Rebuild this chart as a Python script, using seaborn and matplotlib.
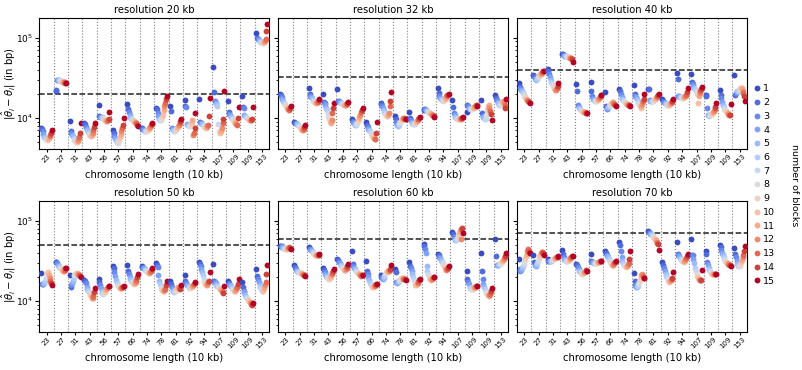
import numpy as np
import pandas as pd
import matplotlib
matplotlib.use('Agg')
import matplotlib.pyplot as plt
import seaborn as sns

lengths = ['23', '27', '31', '43', '56', '57', '66', '74', '78', '81', '92', '94', '107', '109', '109', '153']
blocks = list(range(1, 16))
resolutions = [20, 32, 40, 50, 60, 70]

# |theta_hat - theta| in kb : one row per chromosome, one value per number of blocks (1..15)
err_20kb = [
    [7.6, 7.2, 6.8, 6.3, 5.8, 5.6, 5.5, 5.4, 5.4, 5.5, 5.6, 5.9, 6.2, 6.6, 7.0],
    [21.5, 22.5, 29.5, 30, 30, 29.5, 29.5, 29, 29, 28.5, 28, 28, 28, 27.5, 27.5],
    [9.1, 6.9, 6.6, 6.2, 5.9, 5.6, 5.4, 5.2, 5.1, 5.1, 5.2, 5.4, 5.8, 6.6, 8.6],
    [8.8, 8.4, 7.8, 7.4, 7.0, 6.7, 6.4, 6.1, 5.9, 5.9, 6.1, 6.5, 7.0, 7.8, 8.6],
    [14.6, 10.5, 10.4, 10.3, 10.2, 10.0, 10.0, 9.8, 9.7, 9.5, 9.3, 9.2, 9.4, 9.8, 12.0],
    [7.1, 6.5, 6.0, 5.6, 5.3, 5.0, 4.9, 5.1, 5.4, 5.8, 6.3, 6.9, 7.5, 8.2, 10.0],
    [15.0, 13.0, 12.0, 10.8, 10.2, 9.8, 9.6, 9.4, 9.3, 9.2, 9.0, 8.8, 8.6, 8.2, 7.9],
    [7.6, 7.4, 7.2, 7.0, 6.9, 6.8, 6.8, 6.9, 7.0, 7.2, 7.5, 7.8, 8.1, 8.4, 8.8],
    [13.3, 12.8, 11.5, 10.5, 9.8, 9.5, 9.4, 9.6, 10.2, 11.0, 12.5, 14.0, 15.5, 17.5, 19.0],
    [14.0, 12.3, 7.6, 7.3, 7.1, 6.9, 6.9, 7.0, 7.2, 7.5, 7.9, 8.3, 8.8, 9.2, 9.7],
    [16.8, 14.3, 13.8, 8.5, 8.3, 8.1, 8.0, 8.0, 8.3, 8.7, 9.4, 6.2, 6.5, 7.5, 11.5],
    [17.4, 9.0, 8.8, 8.6, 8.4, 8.2, 8.0, 7.8, 7.7, 7.6, 7.7, 7.9, 8.2, 10.5, 17.8],
    [43.0, 21.0, 16.5, 15.5, 14.8, 14.2, 8.5, 6.8, 6.6, 6.6, 6.8, 7.5, 8.6, 9.6, 21.5],
    [16.2, 11.8, 11.3, 10.8, 10.4, 10.1, 9.8, 9.5, 9.2, 8.9, 8.6, 8.4, 8.3, 10.0, 13.6],
    [19.0, 13.8, 13.2, 11.0, 10.5, 10.2, 10.0, 9.8, 9.6, 9.5, 9.4, 9.4, 9.5, 9.6, 13.6],
    [113, 100, 96, 93, 91, 89, 88, 87, 87, 88, 89, 92, 97, 120, 148],
]
err_32kb = [
    [20.0, 19.5, 18.5, 17.5, 16.5, 15.5, 15.0, 14.5, 14.0, 13.5, 13.0, 12.8, 12.5, 13.2, 14.2],
    [9.0, 8.8, 8.6, 8.5, 8.4, 8.2, 8.0, 7.8, 7.5, 7.3, 7.1, 7.0, 7.3, 7.8, 8.3],
    [24.0, 20.2, 19.0, 18.2, 17.6, 17.0, 16.5, 16.0, 15.8, 15.6, 15.5, 15.7, 16.0, 16.6, 17.4],
    [19.7, 16.0, 15.5, 14.5, 13.5, 12.5, 11.5, 10.5, 9.7, 9.0, 8.7, 9.5, 11.5, 13.5, 15.6],
    [23.3, 16.5, 16.3, 16.0, 15.6, 15.3, 15.0, 14.8, 14.6, 14.5, 14.5, 14.6, 14.8, 15.3, 16.0],
    [9.7, 9.3, 9.0, 8.6, 8.3, 8.3, 8.5, 8.8, 9.2, 9.7, 10.3, 11.0, 11.8, 12.5, 13.3],
    [8.9, 8.3, 7.8, 7.4, 7.1, 6.8, 6.5, 6.2, 6.0, 5.8, 5.6, 5.5, 5.5, 6.5, 8.9],
    [15.6, 14.8, 14.0, 13.2, 12.5, 11.8, 11.2, 10.8, 10.6, 10.5, 10.8, 11.5, 14.0, 16.3, 21.0],
    [10.7, 9.7, 9.0, 8.3, 8.0, 8.2, 8.6, 9.0, 9.3, 9.6, 9.8, 9.9, 9.9, 9.8, 9.7],
    [11.9, 10.0, 9.5, 9.0, 8.7, 8.5, 8.4, 8.5, 8.7, 8.9, 9.2, 9.5, 9.7, 9.9, 10.2],
    [12.7, 12.9, 12.8, 12.6, 12.4, 12.2, 12.0, 11.8, 11.6, 11.4, 11.2, 11.0, 10.8, 10.6, 10.3],
    [24.0, 20.3, 19.0, 18.0, 17.3, 16.8, 16.5, 16.6, 17.0, 17.5, 18.0, 18.6, 19.2, 19.6, 19.8],
    [16.9, 13.7, 11.5, 10.8, 10.3, 10.0, 9.8, 9.7, 9.6, 9.6, 9.7, 9.8, 9.9, 10.1, 10.3],
    [11.8, 14.5, 14.0, 13.5, 13.2, 13.0, 12.9, 13.0, 13.2, 13.5, 13.8, 14.2, 14.6, 14.6, 14.2],
    [16.9, 11.5, 10.7, 10.2, 9.9, 9.7, 9.6, 11.0, 12.5, 14.0, 14.5, 13.5, 12.3, 11.3, 9.4],
    [19.5, 18.0, 17.0, 16.0, 15.2, 14.6, 14.5, 14.8, 15.3, 16.0, 16.5, 16.0, 14.5, 13.2, 17.2],
]
err_40kb = [
    [27.0, 24.5, 23.5, 22.5, 21.5, 20.5, 19.8, 19.0, 18.2, 17.5, 17.0, 16.6, 16.3, 16.0, 15.6],
    [34.5, 33.0, 31.5, 30.5, 30.0, 31.0, 32.0, 33.0, 34.0, 35.0, 35.5, 36.0, 37.0, 38.0, 38.6],
    [40.5, 38.0, 35.5, 32.5, 30.0, 28.0, 26.5, 25.0, 24.0, 23.2, 22.5, 22.5, 23.5, 25.0, 27.0],
    [63, 62, 61, 60, 59.5, 59, 58.5, 58, 57.5, 57, 56.5, 56, 56.5, 55, 50],
    [26.6, 22.0, 14.6, 13.8, 13.2, 12.8, 12.5, 12.3, 12.1, 12.0, 11.9, 11.8, 11.7, 11.6, 11.5],
    [28.0, 22.0, 19.0, 17.5, 16.8, 16.4, 16.3, 16.4, 16.6, 16.9, 17.3, 17.8, 18.5, 19.2, 19.5],
    [21.0, 14.0, 12.8, 13.2, 13.6, 14.0, 14.5, 15.0, 15.5, 16.0, 16.0, 15.5, 15.0, 14.5, 14.2],
    [22.8, 22.0, 20.0, 18.5, 17.5, 16.8, 16.2, 15.8, 15.4, 15.0, 14.8, 14.6, 14.5, 14.4, 14.0],
    [25.6, 20.0, 19.0, 18.2, 17.3, 16.5, 15.6, 14.8, 14.0, 13.5, 14.0, 15.0, 16.3, 17.5, 19.7],
    [23.3, 22.8, 17.0, 16.5, 16.3, 16.2, 16.3, 16.5, 16.8, 17.2, 17.6, 18.1, 18.7, 19.2, 19.7],
    [17.2, 16.3, 15.8, 15.5, 15.2, 14.9, 14.7, 14.6, 14.6, 14.7, 14.9, 15.3, 15.8, 16.5, 17.2],
    [36.8, 30.5, 19.0, 18.7, 18.5, 18.3, 18.1, 18.0, 18.0, 18.1, 18.3, 18.6, 19.5, 21.0, 23.5],
    [35.5, 28.0, 26.5, 25.0, 24.0, 23.0, 22.0, 21.0, 20.0, 15.3, 19.0, 20.5, 22.0, 23.0, 24.2],
    [19.5, 18.7, 13.3, 11.0, 10.8, 10.7, 10.8, 11.0, 11.3, 11.6, 12.0, 12.4, 12.9, 13.7, 15.3],
    [22.5, 19.5, 17.8, 16.0, 14.6, 13.8, 13.1, 12.6, 12.2, 11.8, 11.5, 11.2, 11.0, 10.8, 15.0],
    [34.5, 19.5, 20.5, 21.0, 21.5, 22.0, 22.5, 23.0, 23.5, 24.0, 23.5, 22.0, 20.5, 19.0, 16.4],
]
err_50kb = [
    [22.5, 16.5, 16.3, 16.5, 17.0, 18.0, 19.5, 21.0, 22.5, 23.0, 21.0, 19.5, 18.0, 17.0, 16.0],
    [30.4, 30.4, 29.5, 28.5, 27.5, 26.5, 26.0, 25.5, 25.0, 24.5, 24.0, 24.0, 24.5, 25.5, 25.8],
    [21.2, 15.0, 15.8, 16.8, 18.0, 19.5, 21.0, 22.0, 22.5, 22.5, 22.0, 21.5, 21.0, 20.5, 19.8],
    [18.4, 18.0, 17.0, 15.0, 14.0, 13.5, 13.0, 12.5, 12.0, 11.5, 11.0, 10.8, 11.5, 12.8, 14.5],
    [18.8, 17.2, 16.0, 14.5, 13.5, 12.5, 12.3, 12.5, 13.0, 13.5, 14.0, 14.5, 15.0, 15.2, 15.3],
    [27.0, 25.5, 23.0, 20.5, 18.5, 17.0, 16.0, 15.3, 14.8, 14.6, 14.5, 14.6, 14.8, 15.0, 15.2],
    [28.0, 23.5, 21.5, 20.0, 18.8, 18.0, 17.3, 16.8, 16.6, 16.5, 16.8, 17.5, 18.5, 20.0, 22.0],
    [27.7, 26.5, 26.0, 25.5, 25.0, 24.5, 24.0, 23.5, 23.0, 22.5, 22.5, 23.0, 24.0, 25.0, 26.0],
    [29.5, 28.0, 26.5, 21.0, 18.0, 16.5, 15.0, 14.2, 13.8, 13.5, 13.5, 13.7, 14.0, 16.0, 18.0],
    [17.7, 16.5, 15.0, 14.0, 13.3, 13.0, 13.2, 13.5, 14.0, 14.5, 15.0, 15.0, 14.5, 14.0, 16.0],
    [21.2, 18.0, 17.0, 16.0, 15.3, 14.8, 14.6, 14.6, 14.8, 15.0, 15.3, 15.8, 16.3, 16.8, 17.5],
    [30.4, 29.0, 27.0, 25.0, 23.0, 21.0, 19.0, 17.5, 16.5, 16.0, 16.0, 16.5, 17.3, 18.0, 23.0],
    [29.0, 18.0, 17.5, 17.0, 16.0, 15.5, 15.0, 14.5, 14.2, 14.0, 13.8, 13.5, 13.0, 12.5, 15.6],
    [17.7, 17.0, 16.5, 16.0, 15.3, 14.7, 14.2, 13.8, 13.5, 13.3, 13.5, 14.0, 15.0, 16.5, 18.6],
    [17.2, 15.0, 13.5, 12.8, 12.0, 11.3, 10.8, 10.5, 10.2, 9.9, 9.6, 9.4, 9.2, 9.0, 9.4],
    [25.0, 20.5, 19.0, 17.5, 16.0, 15.0, 14.0, 13.5, 13.3, 13.5, 14.5, 16.0, 17.5, 22.0, 28.5],
]
err_60kb = [
    [49.0, 48.5, 48.0, 47.0, 46.0, 45.5, 45.0, 44.5, 44.5, 45.0, 45.5, 46.0, 46.5, 46.0, 44.5],
    [28.5, 26.5, 25.0, 24.0, 23.5, 23.0, 22.8, 22.6, 22.5, 22.3, 22.0, 21.7, 21.4, 21.0, 20.8],
    [46.7, 45.0, 44.0, 43.0, 42.0, 41.0, 40.0, 39.0, 38.0, 37.5, 37.0, 37.0, 37.5, 38.0, 38.6],
    [25.9, 24.5, 23.0, 21.5, 20.5, 19.8, 19.3, 19.0, 19.0, 19.5, 20.5, 21.5, 22.5, 23.5, 25.0],
    [33.5, 32.5, 31.0, 29.5, 28.5, 27.5, 26.5, 25.5, 25.0, 24.5, 24.5, 25.0, 26.0, 27.5, 29.0],
    [42.5, 29.0, 27.5, 26.0, 25.0, 24.0, 23.5, 23.0, 22.5, 22.0, 21.5, 21.0, 20.5, 21.0, 21.2],
    [31.3, 24.0, 21.5, 19.8, 18.3, 17.0, 16.0, 15.2, 14.9, 15.0, 15.2, 15.5, 15.8, 16.2, 16.4],
    [21.4, 20.0, 19.2, 19.0, 19.5, 20.5, 21.5, 22.5, 23.0, 23.5, 24.0, 24.0, 24.5, 25.0, 28.5],
    [24.9, 23.0, 17.5, 17.0, 17.3, 17.8, 18.3, 18.8, 19.2, 19.5, 19.3, 19.0, 18.8, 18.6, 18.4],
    [30.4, 27.0, 25.5, 23.5, 21.5, 20.0, 18.5, 17.0, 16.0, 15.8, 16.2, 16.8, 17.5, 18.3, 18.9],
    [51.0, 48.0, 45.0, 40.0, 27.6, 24.0, 22.0, 20.5, 19.5, 18.8, 18.5, 18.8, 19.3, 19.8, 20.2],
    [38.6, 37.0, 35.5, 34.0, 32.5, 31.0, 29.5, 28.0, 27.0, 26.0, 25.0, 24.5, 25.0, 26.0, 27.0],
    [72, 68, 62, 59, 57, 58, 60, 63, 66, 70, 74, 59, 80, 82, 70],
    [23.5, 18.9, 17.5, 16.2, 15.0, 14.5, 14.3, 14.2, 14.3, 14.5, 14.8, 15.0, 15.3, 15.5, 15.2],
    [39.7, 24.0, 18.9, 16.5, 15.0, 14.0, 13.2, 12.6, 12.2, 11.9, 11.7, 11.8, 12.3, 13.2, 14.6],
    [60.0, 36.8, 28.0, 28.0, 28.3, 28.7, 29.2, 29.8, 30.5, 31.5, 32.5, 33.5, 35.0, 36.5, 39.3],
]
err_70kb = [
    [33.5, 25.0, 24.0, 24.5, 25.5, 27.0, 29.0, 31.0, 33.5, 36.0, 39.0, 42.0, 44.5, 41.0, 39.3],
    [38.0, 31.0, 28.0, 27.0, 28.0, 29.5, 31.5, 33.5, 35.5, 38.0, 40.0, 41.0, 40.5, 39.5, 38.0],
    [33.5, 32.0, 31.5, 31.3, 31.5, 32.0, 32.5, 33.0, 33.5, 34.0, 34.5, 35.0, 35.3, 35.6, 36.0],
    [43.7, 39.0, 35.5, 33.5, 32.5, 32.0, 31.8, 31.8, 32.0, 32.5, 33.2, 34.0, 35.0, 36.0, 36.8],
    [29.0, 28.0, 26.5, 25.0, 23.5, 22.8, 22.3, 22.0, 22.0, 22.3, 22.8, 23.3, 23.8, 24.2, 24.0],
    [38.6, 32.0, 31.0, 30.5, 30.2, 30.0, 30.0, 30.0, 30.2, 30.5, 30.8, 31.0, 31.3, 31.6, 32.0],
    [42.0, 40.0, 38.0, 36.5, 35.0, 33.5, 32.0, 30.5, 29.5, 28.5, 28.0, 28.5, 29.5, 31.0, 32.0],
    [54.0, 50.0, 42.5, 35.0, 32.0, 30.0, 28.5, 27.5, 27.0, 26.5, 27.0, 28.0, 29.5, 33.5, 41.6],
    [22.2, 18.0, 16.0, 15.0, 14.8, 15.5, 16.5, 17.5, 18.5, 20.0, 21.0, 21.5, 20.5, 19.5, 19.5],
    [75.0, 73.0, 71.0, 69.0, 67.5, 66.0, 64.5, 63.0, 61.0, 59.0, 57.0, 55.0, 53.0, 51.0, 43.3],
    [30.4, 28.0, 26.0, 24.0, 22.0, 20.5, 19.5, 18.5, 17.8, 17.5, 17.8, 18.5, 19.0, 19.5, 22.9],
    [55.0, 39.0, 37.5, 36.0, 34.5, 33.5, 32.5, 32.0, 31.5, 31.0, 31.5, 32.5, 34.0, 36.0, 38.6],
    [59.0, 38.0, 37.0, 33.5, 30.0, 26.0, 24.0, 22.0, 20.5, 19.5, 19.0, 18.5, 18.3, 18.5, 24.5],
    [41.6, 38.6, 31.0, 28.0, 26.0, 24.5, 23.5, 22.5, 22.0, 21.5, 21.5, 21.5, 21.7, 22.0, 21.8],
    [50.0, 47.0, 43.0, 40.0, 37.0, 35.0, 33.5, 32.0, 31.0, 30.0, 29.5, 29.0, 28.5, 28.0, 27.0],
    [46.0, 39.0, 35.0, 32.0, 29.0, 27.5, 27.0, 27.5, 28.5, 30.5, 32.5, 35.0, 38.0, 42.0, 49.0],
]
tables = [err_20kb, err_32kb, err_40kb, err_50kb, err_60kb, err_70kb]

rows = []
for res, tab in zip(resolutions, tables):
    for i, vals in enumerate(tab):
        for b, v in zip(blocks, vals):
            rows.append({'res': res, 'chrom': i, 'blocks': str(b), 'err': v * 1000})
df = pd.DataFrame(rows)

hue_order = [str(b) for b in blocks]
cmap = sns.color_palette('coolwarm', as_cmap=True)
pal = [cmap(t) for t in np.linspace(0, 1, len(blocks))]

fig, axes = plt.subplots(2, 3, figsize=(8.03, 3.7), dpi=100, sharey=True)
fig.subplots_adjust(left=0.049, right=0.93, top=0.951, bottom=0.103, wspace=0.04, hspace=0.40)

for n, (ax, res) in enumerate(zip(axes.flat, resolutions)):
    sub = df[df['res'] == res]
    sns.stripplot(data=sub, x='chrom', y='err', hue='blocks', hue_order=hue_order,
                  palette=pal, dodge=True, jitter=False, size=4.2, ax=ax, zorder=3)
    ax.set_yscale('log')
    for k in range(len(lengths) - 1):
        ax.axvline(k + 0.5, color='gray', ls=':', lw=0.8, zorder=1)
    ax.axhline(res * 1000, color='#222222', ls='--', lw=1.1, zorder=2)
    ax.set_xlim(-0.5, len(lengths) - 0.5)
    ax.set_xticks(range(len(lengths)))
    ax.set_xticklabels(lengths, rotation=45, fontsize=5)
    ax.tick_params(axis='x', length=2, pad=1)
    ax.tick_params(axis='y', labelsize=6.5, pad=1.5)
    ax.tick_params(axis='y', which='major', length=3)
    ax.tick_params(axis='y', which='minor', length=1.5)
    ax.set_title(f'resolution {res} kb', fontsize=7.2, pad=4)
    ax.set_xlabel('chromosome length (10 kb)', fontsize=7.2, labelpad=2)
    if n % 3 == 0:
        ax.set_ylabel(r'$|\hat{\theta}_i - \theta_i|$ (in bp)', fontsize=7.2)
        ax.yaxis.set_label_coords(-0.095, 0.5)
    else:
        ax.set_ylabel('')
    if n == 0:
        handles, labels = ax.get_legend_handles_labels()
    ax.get_legend().remove()

fig.legend(handles, labels, loc='center left', bbox_to_anchor=(0.926, 0.5), frameon=False,
           fontsize=6.8, labelspacing=0.5, handletextpad=0.2, handlelength=1.0)
fig.text(0.99, 0.5, 'number of blocks', rotation=270, va='center', ha='center', fontsize=6.8)

plt.savefig('out.png', dpi=100)
